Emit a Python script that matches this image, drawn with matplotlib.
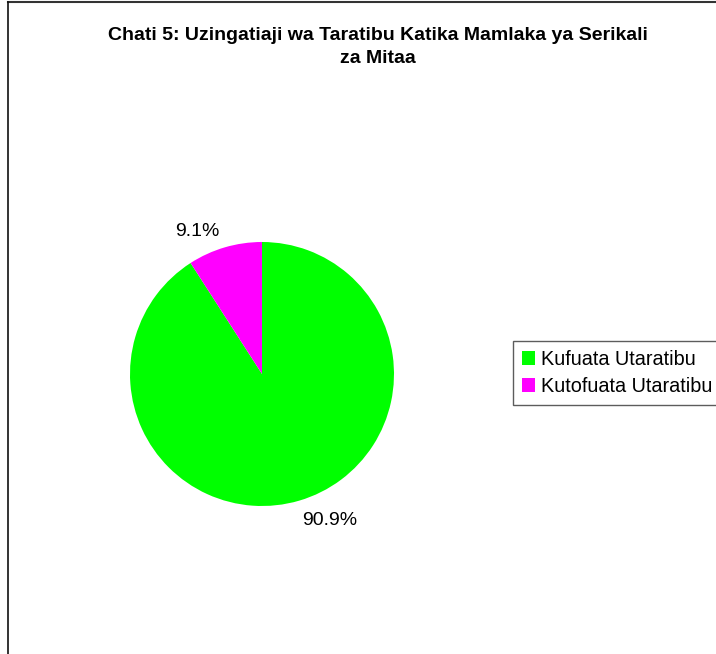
import matplotlib.pyplot as plt
from matplotlib.lines import Line2D

plt.rcParams['font.family'] = ['Liberation Sans', 'DejaVu Sans']

title = "Chati 5: Uzingatiaji wa Taratibu Katika Mamlaka ya Serikali\nza Mitaa"
categories = ["Kufuata Utaratibu", "Kutofuata Utaratibu"]
values = [90.9, 9.1]
colors = ["#00ff00", "#ff00ff"]

fig = plt.figure(figsize=(7.16, 6.54), dpi=100)

# frame round the chart area (only top and left edges show)
fig.add_artist(Line2D([8/716, 1], [1 - 2/654, 1 - 2/654], color="#333333", lw=1.5, transform=fig.transFigure))
fig.add_artist(Line2D([8/716, 8/716], [0, 1 - 2/654], color="#111111", lw=1.2, transform=fig.transFigure))

fig.text(378/716, 1 - 47/654, title, ha="center", va="center", fontsize=14,
         fontweight="bold", linespacing=1.4)

ax = fig.add_axes([130/716, 1 - 506/654, 264/716, 264/654])
wedges, _ = ax.pie(values, colors=colors, startangle=90, counterclock=False,
                   radius=1.0, wedgeprops=dict(linewidth=0))
ax.set_xlim(-1, 1)
ax.set_ylim(-1, 1)
ax.set_aspect("equal")
ax.axis("off")

# percentage labels outside the pie
ax.text(0.51, -1.11, f"{values[0]}%", ha="center", va="center", fontsize=14)
ax.text(-0.49, 1.08, f"{values[1]}%", ha="center", va="center", fontsize=14)

leg = fig.legend(wedges, categories, loc="upper left",
                 bbox_to_anchor=(513/716, 1 - 341/654), fontsize=14.3,
                 frameon=True, fancybox=False, edgecolor="#333333",
                 handlelength=0.65, handleheight=0.65, handletextpad=0.3,
                 borderpad=0.45, labelspacing=0.4, borderaxespad=0)
leg.get_frame().set_linewidth(1.0)

fig.savefig("out.png", dpi=100)
